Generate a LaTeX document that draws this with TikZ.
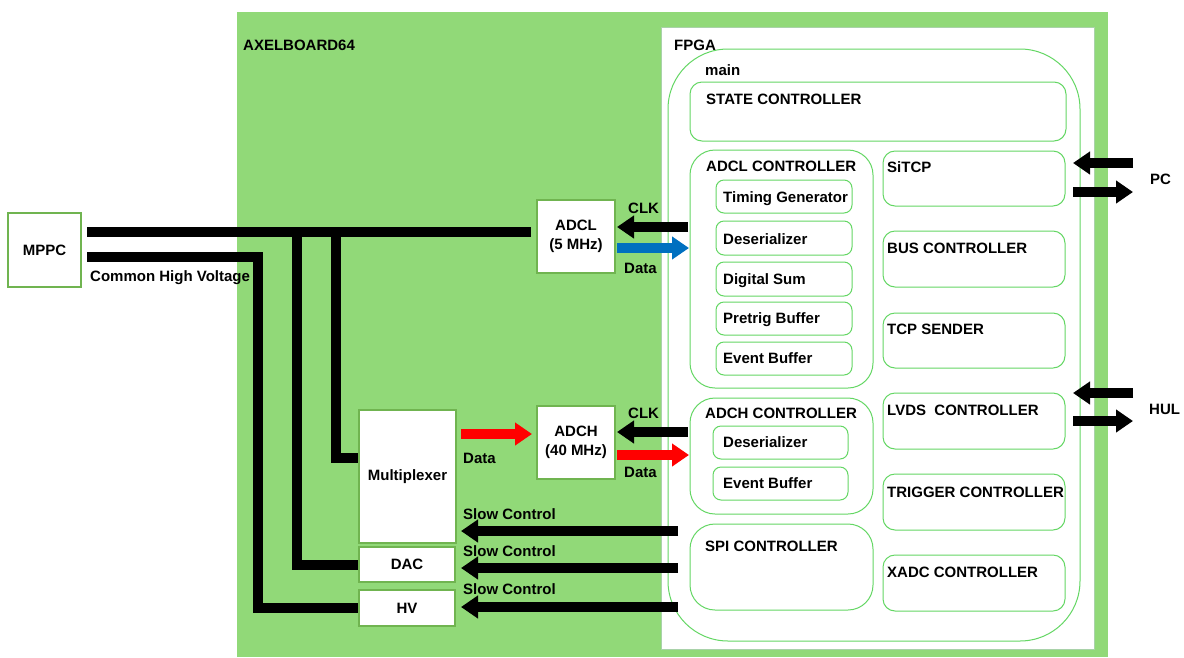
\documentclass[tikz,border=0pt]{standalone}
\usepackage{fontspec}
\setmainfont{Liberation Sans}
\usetikzlibrary{arrows.meta}
\definecolor{boardgreen}{RGB}{145,217,120}
\definecolor{boxedge}{RGB}{112,180,80}
\definecolor{fedge}{RGB}{100,215,100}
\definecolor{dblue}{RGB}{0,112,192}
\definecolor{dred}{RGB}{255,0,0}
\tikzset{
  lbl/.style={font=\bfseries\fontsize{15}{16}\selectfont, inner sep=0pt, text height=10.7pt, text depth=0pt, anchor=west},
  clbl/.style={font=\bfseries\fontsize{15}{19}\selectfont, inner sep=0pt, align=center},
  wbox/.style={draw=boxedge, line width=1.2pt, fill=white, inner sep=0pt, outer sep=0pt, anchor=north west},
  fbox/.style={draw=fedge, line width=1pt, fill=white, inner sep=0pt, outer sep=0pt, anchor=north west},
  wire/.style={line width=10pt, black, line join=miter},
  bigarrow/.style={line width=10pt, -{Triangle[length=17pt,width=22pt]}},
}
\begin{document}
\begin{tikzpicture}[x=1pt,y=-1pt]
\useasboundingbox (0,0) rectangle (1184,657);
% board
\fill[boardgreen] (237,12) rectangle (1108,657);
\node[lbl] (board) at (243,45) {AXELBOARD64};
% FPGA
\node[fbox, draw=fedge!60!gray!60, minimum width=433pt, minimum height=622pt] (fpga) at (661,27) {};
\node[lbl] (fpgalbl) at (674,45) {FPGA};
\node[fbox, rounded corners=60pt, minimum width=412pt, minimum height=592pt] (main) at (668,49) {};
\node[lbl] (mainlbl) at (705,70) {main};
% state controller
\node[fbox, rounded corners=12pt, minimum width=376pt, minimum height=59pt] (state) at (690,82) {};
\node[lbl] at (706,99) {STATE CONTROLLER};
% ADCL controller
\node[fbox, rounded corners=25pt, minimum width=183pt, minimum height=238pt] (adclc) at (690,150) {};
\node[lbl] at (706,166) {ADCL CONTROLLER};
\node[fbox, rounded corners=8pt, minimum width=136pt, minimum height=33pt] (tg) at (716,180) {};
\node[lbl] at ([shift={(7,1)}]tg.west) {Timing Generator};
\node[fbox, rounded corners=8pt, minimum width=136pt, minimum height=34pt] (des1) at (716,221) {};
\node[lbl] at ([shift={(7,1)}]des1.west) {Deserializer};
\node[fbox, rounded corners=8pt, minimum width=136pt, minimum height=34pt] (dsum) at (716,262) {};
\node[lbl] at ([shift={(7,0)}]dsum.west) {Digital Sum};
\node[fbox, rounded corners=8pt, minimum width=136pt, minimum height=33pt] (ptb) at (716,302) {};
\node[lbl] at ([shift={(7,0)}]ptb.west) {Pretrig Buffer};
\node[fbox, rounded corners=8pt, minimum width=136pt, minimum height=33pt] (evb1) at (716,342) {};
\node[lbl] at ([shift={(7,0)}]evb1.west) {Event Buffer};
% ADCH controller
\node[fbox, rounded corners=25pt, minimum width=183pt, minimum height=116pt] (adchc) at (690,398) {};
\node[lbl] at (705,413) {ADCH CONTROLLER};
\node[fbox, rounded corners=8pt, minimum width=135pt, minimum height=33pt] (des2) at (713,426) {};
\node[lbl] at ([shift={(10,0)}]des2.west) {Deserializer};
\node[fbox, rounded corners=8pt, minimum width=135pt, minimum height=33pt] (evb2) at (713,467) {};
\node[lbl] at ([shift={(10,0)}]evb2.west) {Event Buffer};
% SPI controller
\node[fbox, rounded corners=25pt, minimum width=183pt, minimum height=86pt] (spi) at (690,524) {};
\node[lbl] at (705,546) {SPI CONTROLLER};
% right column
\node[fbox, rounded corners=12pt, minimum width=182pt, minimum height=55pt] (sitcp) at (883,151) {};
\node[lbl] at ([shift={(4,16)}]sitcp.north west) {SiTCP};
\node[fbox, rounded corners=12pt, minimum width=182pt, minimum height=56pt] (bus) at (883,231) {};
\node[lbl] at ([shift={(4,17)}]bus.north west) {BUS CONTROLLER};
\node[fbox, rounded corners=12pt, minimum width=182pt, minimum height=55pt] (tcp) at (883,313) {};
\node[lbl] at ([shift={(4,16)}]tcp.north west) {TCP SENDER};
\node[fbox, rounded corners=12pt, minimum width=182pt, minimum height=56pt] (lvds) at (883,393) {};
\node[lbl] at ([shift={(4,17)}]lvds.north west) {LVDS\ \ CONTROLLER};
\node[fbox, rounded corners=12pt, minimum width=182pt, minimum height=56pt] (trig) at (883,474) {};
\node[lbl] at ([shift={(4,18)}]trig.north west) {TRIGGER CONTROLLER};
\node[fbox, rounded corners=12pt, minimum width=182pt, minimum height=56pt] (xadc) at (883,555) {};
\node[lbl] at ([shift={(4,17)}]xadc.north west) {XADC CONTROLLER};
% board components
\node[wbox, minimum width=73pt, minimum height=74pt] (mppc) at (8,213) {};
\node[clbl] at (mppc.center) {MPPC};
\node[wbox, minimum width=78pt, minimum height=73pt] (adcl) at (537,200) {};
\node[clbl] at (adcl.center) {ADCL\\(5 MHz)};
\node[wbox, minimum width=78pt, minimum height=73pt] (adch) at (537,406) {};
\node[clbl] at (adch.center) {ADCH\\(40 MHz)};
\node[wbox, minimum width=97pt, minimum height=133pt] (mux) at (359,410) {};
\node[clbl] at (mux.center) {Multiplexer};
\node[wbox, minimum width=96pt, minimum height=35pt] (dac) at (359,547) {};
\node[clbl] at (dac.center) {DAC};
\node[wbox, minimum width=96pt, minimum height=36pt] (hv) at (359,590) {};
\node[clbl] at (hv.center) {HV};
% wires
\draw[wire, shorten <=6pt, shorten >=6pt] (mppc.east |- 0,232) -- (adcl.west |- 0,232);
\draw[wire, shorten <=6pt, shorten >=1pt] (mppc.east |- 0,257) -| (hv.west -| 258,0) -- (hv.west);
\draw[wire, shorten >=1pt] (297,232) |- (dac.west);
\draw[wire, shorten >=1pt] (336,232) |- (mux.west |- 0,458);
\node[lbl] at (90,276) {Common High Voltage};
% ADCL arrows
\draw[bigarrow, shorten <=2pt, shorten >=2pt] (adclc.west |- 0,227) -- (adcl.east |- 0,227);
\draw[bigarrow, dblue, shorten <=2pt, shorten >=1pt] (adcl.east |- 0,248) -- (adclc.west |- 0,248);
\node[lbl] at (628,208) {CLK};
\node[lbl] at (624,268) {Data};
% ADCH arrows
\draw[bigarrow, shorten <=2pt, shorten >=2pt] (adchc.west |- 0,432) -- (adch.east |- 0,432);
\draw[bigarrow, dred, shorten <=2pt, shorten >=1pt] (adch.east |- 0,455) -- (adchc.west |- 0,455);
\node[lbl] at (628,413) {CLK};
\node[lbl] at (624,472) {Data};
\draw[bigarrow, dred, shorten <=5pt, shorten >=5pt] (mux.east |- 0,434) -- (adch.west |- 0,434);
\node[lbl] at (463,458) {Data};
% slow control
\draw[bigarrow, shorten <=12pt, shorten >=5pt] (spi.west |- 0,531) -- (mux.east |- 0,531);
\draw[bigarrow, shorten <=12pt, shorten >=6pt] (spi.west |- 0,568) -- (dac.east |- 0,568);
\draw[bigarrow, shorten <=12pt, shorten >=6pt] (spi.west |- 0,607) -- (hv.east |- 0,607);
\node[lbl] at (463,514) {Slow Control};
\node[lbl] at (463,551) {Slow Control};
\node[lbl] at (463,589) {Slow Control};
% PC / HUL
\coordinate (pcin) at (1133,163);
\coordinate (pcout) at (1133,192);
\coordinate (hulin) at (1133,393);
\coordinate (hulout) at (1133,421);
\draw[bigarrow, shorten >=8pt] (pcin) -- (sitcp.east |- pcin);
\draw[bigarrow, shorten <=8pt] (sitcp.east |- pcout) -- (pcout);
\draw[bigarrow, shorten >=8pt] (hulin) -- (lvds.east |- hulin);
\draw[bigarrow, shorten <=8pt] (lvds.east |- hulout) -- (hulout);
\node[lbl] at (1150,179) {PC};
\node[lbl] at (1149,409) {HUL};
\end{tikzpicture}
\end{document}
